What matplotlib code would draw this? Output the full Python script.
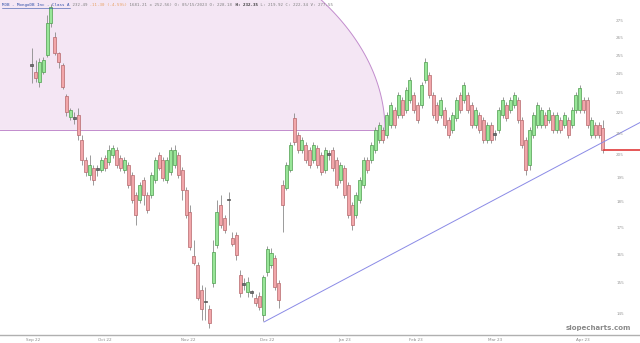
import numpy as np
import matplotlib
matplotlib.use("Agg")
import matplotlib.pyplot as plt
from matplotlib.patches import Polygon
import matplotlib.transforms as mtransforms

# ---------------- data (daily OHLC) ----------------
opens = [249.5, 246.0, 240.7, 246.0, 255.3, 273.8, 265.5, 256.4, 249.8, 233.5,
         223.0, 222.3, 224.0, 212.1, 203.0, 196.5, 199.5, 198.6, 198.6, 203.9,
         202.1, 205.2, 207.5, 203.9, 198.6, 200.8, 196.5, 188.1, 186.0, 194.3,
         188.1, 188.1, 194.3, 205.2, 203.0, 194.3, 197.8, 200.8, 205.2, 198.6,
         190.1, 181.2, 164.6, 161.4, 152.8, 148.8, 146.6, 155.2, 168.6, 184.0,
         178.9, 186.0, 171.2, 172.3, 157.9, 154.5, 152.1, 151.8, 150.2, 150.9,
         144.7, 159.0, 161.4, 163.9, 155.2, 192.2, 190.9, 198.6, 222.5, 214.4,
         207.5, 209.8, 207.5, 203.0, 208.4, 205.2, 198.6, 205.2, 207.5, 203.0,
         194.3, 199.5, 192.2, 184.0, 180.0, 186.0, 192.2, 203.0, 203.0, 207.5,
         212.1, 216.8, 214.4, 219.1, 226.4, 224.0, 231.4, 226.4, 231.4, 234.0,
         228.9, 228.9, 241.8, 244.4, 234.0, 228.9, 224.0, 226.4, 221.5, 216.8,
         222.5, 234.0, 231.4, 234.0, 228.9, 219.1, 224.0, 221.5, 212.1, 219.1,
         214.4, 216.8, 224.0, 228.9, 226.4, 228.9, 231.4, 221.5, 212.1, 200.8,
         214.4, 219.1, 219.1, 224.0, 221.5, 224.0, 216.8, 221.5, 219.1, 221.5,
         219.1, 226.4, 226.4, 231.4, 231.4, 214.4, 219.1, 219.1, 217.7]
closes = [249.1, 242.8, 251.5, 252.6, 273.8, 283.6, 256.4, 251.5, 238.1, 225.4,
          226.4, 222.2, 214.4, 203.0, 197.8, 200.8, 194.3, 198.5, 203.0, 199.5,
          207.5, 208.4, 200.8, 199.5, 203.0, 192.2, 186.0, 180.0, 192.2, 188.1,
          182.0, 196.5, 203.0, 199.5, 195.2, 203.0, 207.5, 207.5, 196.5, 190.1,
          180.0, 167.9, 162.1, 150.2, 146.6, 148.7, 142.2, 166.1, 181.2, 176.2,
          174.2, 185.8, 169.0, 165.0, 151.8, 154.4, 155.5, 151.7, 148.5, 147.2,
          157.2, 167.2, 165.7, 153.8, 149.5, 184.0, 200.8, 209.8, 211.2, 207.5,
          212.1, 203.0, 200.8, 209.8, 200.8, 197.8, 207.5, 205.1, 199.5, 192.2,
          200.8, 188.1, 180.0, 176.2, 188.1, 194.3, 203.0, 198.6, 209.8, 216.8,
          219.1, 212.1, 224.0, 228.9, 219.1, 234.0, 224.0, 236.5, 241.8, 226.4,
          221.5, 239.1, 251.5, 234.0, 224.0, 221.5, 231.4, 219.1, 214.4, 224.0,
          231.4, 226.4, 239.1, 226.4, 219.1, 226.4, 216.8, 212.1, 219.1, 212.1,
          214.3, 226.4, 231.4, 222.5, 231.4, 234.0, 221.5, 209.8, 198.6, 216.8,
          224.0, 228.9, 226.4, 219.1, 226.4, 216.8, 224.0, 216.8, 224.0, 214.4,
          226.4, 234.0, 237.5, 226.4, 219.1, 221.5, 214.4, 214.4, 207.5]
highs = [259.2, 252.6, 253.7, 254.2, 278.6, 285.4, 268.5, 257.0, 250.9, 234.5,
         227.4, 225.4, 227.4, 214.4, 204.3, 205.2, 200.8, 200.8, 204.3, 205.2,
         209.8, 209.8, 208.9, 205.2, 204.3, 202.1, 197.8, 189.3, 193.5, 195.6,
         189.3, 197.8, 204.3, 206.6, 204.3, 204.3, 208.9, 209.8, 206.6, 199.9,
         191.4, 184.0, 170.5, 162.5, 154.5, 153.8, 147.9, 170.5, 186.0, 188.1,
         180.0, 189.3, 173.5, 173.5, 159.7, 156.9, 157.2, 152.8, 151.5, 152.1,
         157.9, 168.2, 167.5, 165.0, 156.2, 194.3, 202.1, 211.2, 225.0, 215.9,
         213.5, 211.2, 208.9, 211.2, 209.8, 206.6, 208.9, 207.5, 208.9, 204.3,
         202.1, 200.8, 193.5, 185.2, 189.3, 195.6, 204.3, 204.3, 211.2, 218.2,
         220.5, 218.2, 225.4, 230.4, 227.9, 235.5, 233.0, 238.1, 243.3, 235.5,
         230.4, 240.7, 253.7, 246.0, 235.5, 230.4, 233.0, 227.9, 223.0, 225.4,
         233.0, 235.5, 240.7, 235.5, 230.4, 227.9, 225.4, 223.0, 220.5, 220.5,
         216.8, 227.9, 233.0, 230.4, 233.0, 235.5, 233.0, 223.0, 213.5, 218.2,
         225.4, 230.4, 227.9, 225.4, 227.9, 225.4, 225.4, 223.0, 225.4, 223.0,
         227.9, 235.5, 239.1, 233.0, 233.0, 223.0, 220.5, 220.5, 221.5]
lows = [240.2, 240.7, 238.1, 244.9, 254.2, 271.4, 255.3, 248.2, 237.0, 223.5,
        221.5, 219.6, 212.1, 200.8, 196.1, 194.3, 192.2, 196.1, 197.8, 198.2,
        200.8, 203.9, 199.5, 198.2, 197.3, 190.9, 184.8, 176.2, 184.8, 184.0,
        180.8, 186.8, 193.0, 198.6, 193.9, 193.0, 196.5, 199.5, 195.2, 186.0,
        178.9, 166.8, 161.4, 149.5, 143.2, 143.2, 140.7, 153.8, 167.5, 175.0,
        173.1, 176.2, 168.2, 163.2, 150.5, 152.8, 150.5, 150.5, 147.6, 146.3,
        142.9, 157.6, 160.4, 152.8, 146.9, 173.5, 190.1, 197.8, 209.8, 206.1,
        206.1, 201.7, 199.5, 201.7, 199.5, 196.5, 197.3, 203.0, 198.2, 190.9,
        193.0, 186.8, 178.9, 174.2, 178.9, 184.8, 190.9, 197.3, 201.7, 206.1,
        210.7, 210.7, 213.0, 217.7, 217.7, 222.5, 222.5, 225.0, 229.9, 225.0,
        220.1, 227.4, 240.2, 232.4, 222.5, 220.1, 222.5, 217.7, 213.0, 215.4,
        221.0, 225.0, 229.9, 225.0, 217.7, 217.7, 215.4, 210.7, 210.7, 210.7,
        212.1, 215.4, 222.5, 221.0, 225.0, 227.4, 220.1, 208.4, 196.5, 198.6,
        213.0, 217.7, 217.7, 217.7, 220.1, 215.4, 215.4, 215.4, 217.7, 213.0,
        217.7, 225.0, 225.0, 225.0, 217.7, 213.0, 213.0, 213.0, 206.1]

month_labels = ["Sep 22", "Oct 22", "Nov 22", "Dec 22", "Jan 23", "Feb 23", "Mar 23", "Apr 23"]
month_pos = [0.3, 19.0, 40.5, 61.0, 81.2, 99.6, 120.0, 142.7]
y_ticks = [275, 265, 255, 245, 235, 225, 215, 205, 195, 185, 175, 165, 155, 145]

trend_start = (60.2, 142.5)
trend_end = (157.6, 220.3)
zone_floor = 216.8
last_price = 207.5

header_parts = [
    ("MDB - MongoDB Inc - Class A", "#2f4fa8", "normal"),
    (" 232.49", "#808080", "normal"),
    (" -11.30 (-4.59%)", "#e8a060", "normal"),
    (" 1681.21 x 252.56) O: 05/15/2023 O: 228.18", "#808080", "normal"),
    (" H: 232.35", "#333333", "bold"),
    (" L: 219.92 C: 222.34 V: 277,55", "#808080", "normal"),
]

# ---------------- figure ----------------
W, H = 640, 343
AX_BOT, AX_H = 8, 335
Y_LO, Y_HI = 138.5, 287.9
fig = plt.figure(figsize=(W / 100, H / 100), dpi=100)
fig.patch.set_facecolor("white")
ax = fig.add_axes([0, AX_BOT / H, 1, AX_H / H])
ax.set_facecolor("white")
ax.set_yscale("log")
ax.set_xlim(-8.21, 157.6)
ax.set_ylim(Y_LO, Y_HI)

o = np.array(opens); c = np.array(closes); hi = np.array(highs); lo = np.array(lows)
x = np.arange(len(o))

# pink zone (elliptical drawing region) in axes coords, bottom at zone_floor
t = np.linspace(0, np.pi / 2, 300)
a_px, b_px = 385.0, 235.6
floor_frac = (np.log(zone_floor) - np.log(Y_LO)) / (np.log(Y_HI) - np.log(Y_LO))
floor_px = floor_frac * AX_H
ex = a_px * np.cos(t) / W
ey = (floor_px + b_px * np.sin(t)) / AX_H
m = ey <= 1.0
poly_pts = [(0, 1), (0, floor_frac)] + list(zip(ex[m], ey[m]))
ax.add_patch(Polygon(poly_pts, closed=True, transform=ax.transAxes,
                     facecolor="#f4e6f4", edgecolor="none", zorder=0))
ax.plot(ex[m], ey[m], transform=ax.transAxes, color="#c28ccd", lw=0.7, zorder=1)
ax.plot([0, a_px / W], [floor_frac, floor_frac], transform=ax.transAxes,
        color="#c28ccd", lw=0.7, zorder=1)

# candles
ax.vlines(x, lo, hi, color="#8a8a8a", lw=0.6, zorder=2)
for i in range(len(o)):
    bot = min(o[i], c[i]); top = max(o[i], c[i])
    if c[i] > o[i]:
        fc, ec = "#98e698", "#4f9d4f"
    else:
        fc, ec = "#f2a6aa", "#b5686c"
    if top / bot < 1.004:
        top = bot * 1.004
        fc, ec = "#707070", "#505050"
    ax.bar(x[i], top - bot, bottom=bot, width=0.78, color=fc, edgecolor=ec,
           linewidth=0.5, zorder=3)

# trend line and last price line
ax.plot([trend_start[0], trend_end[0]], [trend_start[1], trend_end[1]],
        color="#8a8ae6", lw=0.7, zorder=4)
ax.plot([len(o) - 0.6, 157.6], [last_price, last_price], color="#e03a3a", lw=1.2, zorder=4)

# axes styling
for s in ["top", "right", "left"]:
    ax.spines[s].set_visible(False)
ax.spines["bottom"].set_color("#b0b0b0")
ax.spines["bottom"].set_linewidth(1.0)
ax.set_yticks([])
ax.yaxis.set_minor_locator(matplotlib.ticker.NullLocator())
ax.set_xticks(month_pos)
ax.set_xticklabels(month_labels, fontsize=3.0, color="#8a8a8a")
ax.tick_params(axis="x", length=0, pad=2)

trans = mtransforms.blended_transform_factory(ax.transAxes, ax.transData)
for v in y_ticks:
    ax.text(620 / W, v, str(v), transform=trans, fontsize=3.0, color="#9a9a9a",
            ha="center", va="center", zorder=5)

ax.text(598 / W, (AX_H - 328) / AX_H, "slopecharts.com", transform=ax.transAxes,
        fontsize=5.0, color="#8a8a8a", ha="center", va="center", fontweight="bold")

# header (monospace pieces placed one after another)
fs = 3.0
cw = 0.602 * fs * 100 / 72
cx = 2.0
fy = 1 - 5 / H
for txt, col, wt in header_parts:
    fig.text(cx / W, fy, txt, fontsize=fs, color=col, family="DejaVu Sans Mono",
             va="center", ha="left", fontweight=wt)
    if col == "#2f4fa8":
        fig.add_artist(matplotlib.lines.Line2D([cx / W, (cx + len(txt) * cw) / W],
                                               [fy - 2.5 / H, fy - 2.5 / H],
                                               color="#2f4fa8", lw=0.4))
    cx += len(txt) * cw

fig.savefig("out.png", dpi=100, facecolor="white")
